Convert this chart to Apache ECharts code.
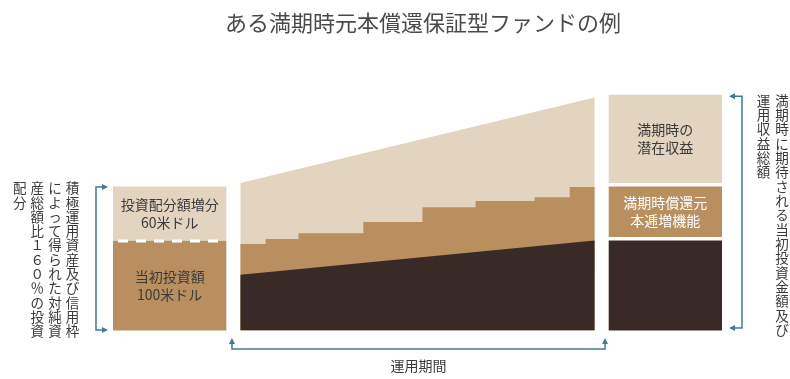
<!DOCTYPE html>
<html>
<head>
<meta charset="utf-8">
<script src="https://cdn.jsdelivr.net/npm/echarts@6/dist/echarts.min.js"></script>
<style>
  html, body { margin: 0; padding: 0; background: #fff; }
  #main { width: 790px; height: 379px; }
</style>
</head>
<body>
<div id="main"></div>
<script>
// 運用期間（0〜100）に沿った各層の値（単位：米ドル相当）
var periodX = [0, 100];
var upperLine = [164, 259];   // 積極運用収益の上端
var bondLine = [62, 100];     // 元本確保部分
var stepX = [0, 7.1, 16.4, 34.7, 51.4, 66.4, 83.1, 93, 100];
var stepY = [96, 101.7, 108, 120.5, 137, 144, 148, 159.4, 159.4];

// 運用開始時・満期時の箱
var boxX = [-20, 120];
var startValues = [100, 60];
var startLabels = ['当初投資額\n100米ドル', '投資配分額増分\n60米ドル'];
var maturityValues = [100, 60, 102];
var maturityLabels = ['', '満期時償還元\n本逓増機能', '満期時の\n潜在収益'];

var LIGHT = '#e2d4be';
var MID = '#b98f5f';
var DARK = '#3a2a27';
var BLUE = '#3d7b9a';
var TEXT = '#3a3a3a';
var FONT = '"Noto Sans CJK JP", "Noto Sans", sans-serif';
var BOX_HALF = 16;

var chart = echarts.init(document.getElementById('main'));

function pairs(xs, ys) {
  var out = [];
  for (var i = 0; i < xs.length; i++) out.push([xs[i], ys[i]]);
  return out;
}

// 箱のデータ（下から積み上げ）
var boxData = [];
var boxMeta = [];
var base = 0;
for (var i = 0; i < startValues.length; i++) {
  boxData.push([boxX[0], base, base + startValues[i]]);
  boxMeta.push({ fill: [MID, LIGHT][i], text: startLabels[i], color: TEXT, gap: 0, dash: i > 0 });
  base += startValues[i];
}
base = 0;
for (var j = 0; j < maturityValues.length; j++) {
  boxData.push([boxX[1], base, base + maturityValues[j]]);
  boxMeta.push({ fill: [DARK, MID, LIGHT][j], text: maturityLabels[j], color: j == 1 ? '#fff' : TEXT, gap: j > 0 ? 3.5 : 0, dash: false });
  base += maturityValues[j];
}

function renderBox(params, api) {
  var m = boxMeta[params.dataIndex];
  var x = api.value(0);
  var a = api.coord([x - BOX_HALF, api.value(1)]);
  var b = api.coord([x + BOX_HALF, api.value(2)]);
  var left = a[0], right = b[0], bottom = a[1] - m.gap, top = b[1];
  var children = [{
    type: 'rect',
    shape: { x: left, y: top, width: right - left, height: bottom - top },
    style: { fill: m.fill }
  }];
  if (m.text) {
    children.push({
      type: 'text',
      style: {
        text: m.text, x: (left + right) / 2, y: (top + bottom) / 2,
        align: 'center', verticalAlign: 'middle', lineHeight: 18,
        fill: m.color, fontSize: 14, fontFamily: FONT
      }
    });
  }
  if (m.dash) {
    // 当初投資額と増分の境目（白の破線）
    children.push({
      type: 'line',
      shape: { x1: left, y1: bottom + 0.5, x2: right, y2: bottom + 0.5 },
      style: { stroke: '#fff', lineWidth: 3, lineDash: [10, 8], lineDashOffset: 13 }
    });
  }
  return { type: 'group', children: children };
}

chart.setOption({
  animation: false,
  title: {
    text: 'ある満期時元本償還保証型ファンドの例',
    left: 220,
    top: 7,
    textStyle: { fontSize: 22, fontWeight: 'normal', color: '#4a4a4a', fontFamily: FONT }
  },
  grid: { left: 113, right: 68, top: 87.5, bottom: 48.5 },
  xAxis: { type: 'value', min: -36, max: 136, show: false },
  yAxis: { type: 'value', min: 0, max: 270, show: false },
  series: [
    {
      name: '積極運用収益',
      type: 'line',
      data: pairs(periodX, upperLine),
      symbol: 'none',
      lineStyle: { width: 0 },
      areaStyle: { color: LIGHT, opacity: 1 }
    },
    {
      name: '投資配分',
      type: 'line',
      step: 'end',
      data: pairs(stepX, stepY),
      symbol: 'none',
      lineStyle: { width: 0 },
      areaStyle: { color: MID, opacity: 1 }
    },
    {
      name: '元本',
      type: 'line',
      data: pairs(periodX, bondLine),
      symbol: 'none',
      lineStyle: { width: 0 },
      areaStyle: { color: DARK, opacity: 1 }
    },
    {
      name: '箱',
      type: 'custom',
      renderItem: renderBox,
      encode: { x: 0, y: [1, 2] },
      data: boxData
    }
  ]
});

// 注記（矢印付きの括弧と縦書きテキスト）
function px(x, y) { return chart.convertToPixel({ gridIndex: 0 }, [x, y]); }

function arrow(tx, ty, dir) {
  var L = 6, W = 3;
  var pts;
  if (dir == 'right') pts = [[tx, ty], [tx - L, ty - W], [tx - L, ty + W]];
  else if (dir == 'left') pts = [[tx, ty], [tx + L, ty - W], [tx + L, ty + W]];
  else pts = [[tx, ty], [tx - W, ty + L], [tx + W, ty + L]];
  return { type: 'polygon', shape: { points: pts }, style: { fill: BLUE } };
}

function vtext(str, x, y, size, pitch) {
  return {
    type: 'text',
    style: {
      text: str.split('').join('\n'), x: x, y: y,
      align: 'center', verticalAlign: 'top', lineHeight: pitch,
      fill: TEXT, fontSize: size, fontFamily: FONT
    }
  };
}

var startTotal = startValues.reduce(function (s, v) { return s + v; }, 0);
var matTotal = maturityValues.reduce(function (s, v) { return s + v; }, 0);
var lTop = px(boxX[0] - BOX_HALF, startTotal);
var lBot = px(boxX[0] - BOX_HALF, 0);
var rTop = px(boxX[1] + BOX_HALF, matTotal);
var rBot = px(boxX[1] + BOX_HALF, 0);
var p0 = px(periodX[0], 0);
var p1 = px(periodX[1], 0);

var g = [];
// 左の括弧
var lx = lTop[0] - 17, ly0 = lTop[1] + 0.5, ly1 = lBot[1] - 0.5;
g.push({ type: 'polyline', shape: { points: [[lTop[0] - 8, ly0], [lx, ly0], [lx, ly1], [lTop[0] - 8, ly1]] },
  style: { stroke: BLUE, lineWidth: 1.5, fill: null } });
g.push(arrow(lTop[0] - 5, ly0, 'right'), arrow(lTop[0] - 5, ly1, 'right'));
// 右の括弧
var rx = rTop[0] + 20, ry0 = rTop[1] + 1.5, ry1 = rBot[1] - 2.5;
g.push({ type: 'polyline', shape: { points: [[rTop[0] + 10, ry0], [rx, ry0], [rx, ry1], [rTop[0] + 10, ry1]] },
  style: { stroke: BLUE, lineWidth: 1.5, fill: null } });
g.push(arrow(rTop[0] + 7, ry0, 'left'), arrow(rTop[0] + 7, ry1, 'left'));
// 下の括弧（運用期間）
var bx0 = p0[0] - 8.5, bx1 = p1[0] + 10.5, by = p0[1] + 18.5;
g.push({ type: 'polyline', shape: { points: [[bx0, by - 8], [bx0, by], [bx1, by], [bx1, by - 8]] },
  style: { stroke: BLUE, lineWidth: 1.5, fill: null } });
g.push(arrow(bx0, by - 11, 'up'), arrow(bx1, by - 11, 'up'));
g.push({ type: 'text', style: { text: '運用期間', x: (bx0 + bx1) / 2, y: by + 16.5, align: 'center', verticalAlign: 'middle',
  fill: TEXT, fontSize: 14, fontFamily: FONT } });

// 積極運用収益ラベル
var mid = px(66.8, 187);
g.push({ type: 'text', style: { text: '積極運用収益', x: mid[0], y: mid[1], align: 'center', verticalAlign: 'middle',
  fill: TEXT, fontSize: 14, fontFamily: FONT } });

// 左の縦書き
var leftCols = ['積極運用資産及び信用枠', 'によって得られた対純資', '産総額比１６０％の投資', '配分'];
for (var c = 0; c < leftCols.length; c++) {
  g.push(vtext(leftCols[c], lTop[0] - 40.5 - 17.6 * c, lTop[1] - 5.5, 13.5, 14.3));
}
// 右の縦書き
var rightCols = ['満期時に期待される当初投資金額及び', '運用収益総額'];
for (var k = 0; k < rightCols.length; k++) {
  g.push(vtext(rightCols[k], rTop[0] + 60 - 18.5 * k, rTop[1] - 1.5, 13.5, 14.35));
}

chart.setOption({ graphic: g });
</script>
</body>
</html>
